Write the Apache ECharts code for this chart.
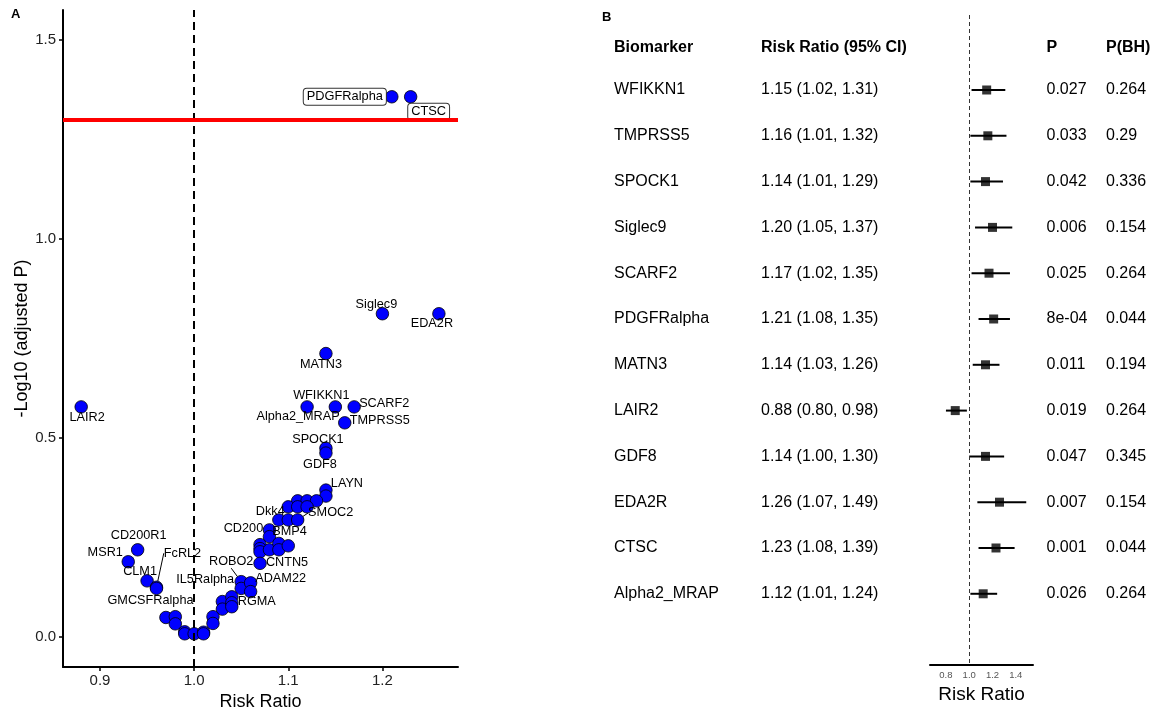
<!DOCTYPE html>
<html>
<head>
<meta charset="utf-8">
<script src="https://cdn.jsdelivr.net/npm/echarts@6/dist/echarts.min.js"></script>
<style>html,body{margin:0;padding:0;background:#fff}#c{width:1155px;height:708px}</style>
</head>
<body>
<div id="c"></div>
<script>
// ---------- Panel A data (volcano) ----------
const volcanoNames = ["PDGFRalpha","CTSC","Siglec9","EDA2R","MATN3","WFIKKN1","Alpha2_MRAP","SCARF2","LAIR2","TMPRSS5",
  "SPOCK1","GDF8","LAYN","","","","","Dkk4","","",
  "","","SMOC2","CD200","BMP4","","","","","",
  "","","CNTN5","ROBO2","IL5Ralpha","","ADAM22","","","",
  "RGMA","","","","CD200R1","MSR1","CLM1","FcRL2","GMCSFRalpha","",
  "","","","","","",""];
const volcanoRR = [1.21,1.23,1.20,1.26,1.14,1.15,1.12,1.17,0.88,1.16,
  1.14,1.14,1.14,1.14,1.11,1.12,1.13,1.10,1.11,1.12,
  1.09,1.10,1.11,1.08,1.08,1.07,1.07,1.07,1.08,1.09,
  1.09,1.10,1.07,1.05,1.05,1.06,1.06,1.03,1.03,1.04,
  1.04,1.04,1.02,1.02,0.94,0.93,0.95,0.96,0.96,0.97,
  0.98,0.98,0.99,0.99,1.00,1.01,1.01];
const volcanoLogP = [1.357,1.357,0.812,0.812,0.712,0.578,0.578,0.578,0.578,0.538,
  0.474,0.462,0.369,0.354,0.342,0.342,0.342,0.327,0.327,0.327,
  0.294,0.294,0.294,0.269,0.252,0.232,0.222,0.214,0.219,0.235,
  0.219,0.229,0.185,0.139,0.122,0.136,0.114,0.089,0.070,0.101,
  0.086,0.076,0.051,0.034,0.219,0.189,0.141,0.125,0.122,0.049,
  0.051,0.033,0.013,0.008,0.008,0.012,0.008];
const volcanoXTicks = [0.9, 1.0, 1.1, 1.2];
const volcanoYTicks = [0.0, 0.5, 1.0, 1.5];
const boxedLabels = ["PDGFRalpha","CTSC"];
const leaderLabels = ["FcRL2","ROBO2","SMOC2","ADAM22"];

// ---------- Panel B data (forest) ----------
const forestNames = ["WFIKKN1","TMPRSS5","SPOCK1","Siglec9","SCARF2","PDGFRalpha","MATN3","LAIR2","GDF8","EDA2R","CTSC","Alpha2_MRAP"];
const forestRR = [1.15,1.16,1.14,1.20,1.17,1.21,1.14,0.88,1.14,1.26,1.23,1.12];
const forestLo = [1.02,1.01,1.01,1.05,1.02,1.08,1.03,0.80,1.00,1.07,1.08,1.01];
const forestHi = [1.31,1.32,1.29,1.37,1.35,1.35,1.26,0.98,1.30,1.49,1.39,1.24];
const forestP = ["0.027","0.033","0.042","0.006","0.025","8e-04","0.011","0.019","0.047","0.007","0.001","0.026"];
const forestPBH = ["0.264","0.29","0.336","0.154","0.264","0.044","0.194","0.264","0.345","0.154","0.044","0.264"];
const forestXTicks = [0.8, 1.0, 1.2, 1.4];
const tableHeaders = ["Biomarker","Risk Ratio (95% CI)","P","P(BH)"];

// ---------- layout / style ----------
const FONT = "'Liberation Sans', Arial, Helvetica, sans-serif";
const labelOffsets = {
  LAIR2:[6,11], CD200R1:[1,-14], MSR1:[-23,-9], CLM1:[-7,-9], GMCSFRalpha:[-6,12], FcRL2:[26,-34],
  IL5Ralpha:[-36,-9], ROBO2:[-10,-20], ADAM22:[30,-13], RGMA:[25,-1], CNTN5:[27,-1], CD200:[-26,-1],
  BMP4:[20,-5], Dkk4:[-18,5], SMOC2:[33,-7], LAYN:[21,-7], SPOCK1:[-8,-9], GDF8:[-6,11],
  WFIKKN1:[-14,-11], Alpha2_MRAP:[-9,10], SCARF2:[30,-3], TMPRSS5:[35,-2], MATN3:[-5,11],
  Siglec9:[-6,-9], EDA2R:[-7,10], PDGFRalpha:[-47,0], CTSC:[18,15]
};
const colX = [614, 761, 1046.5, 1106];

const volcanoData = volcanoRR.map((x, i) => {
  const nm = volcanoNames[i];
  const item = { name: nm, value: [x, volcanoLogP[i]], label: { show: nm !== '' } };
  if (boxedLabels.includes(nm)) {
    Object.assign(item.label, { backgroundColor:'#fff', borderColor:'#333', borderWidth:1, borderRadius:3, padding:[2,3,1,3], fontSize:12.8 });
  }
  if (leaderLabels.includes(nm)) {
    item.labelLine = { show: true, lineStyle: { color:'#000', width:1 } };
  }
  return item;
});

const chart = echarts.init(document.getElementById('c'), null, { renderer: 'canvas' });
chart.setOption({
  animation: false,
  backgroundColor: '#fff',
  textStyle: { fontFamily: FONT },
  grid: [
    { left: 63, right: 697, top: 10, bottom: 41, containLabel: false, outerBoundsMode: 'none' },
    { left: 930, right: 122, top: 15, bottom: 43, containLabel: false, outerBoundsMode: 'none' }
  ],
  xAxis: [
    { gridIndex: 0, type: 'value', min: 0.8607, max: 1.2803,
      name: 'Risk Ratio', nameLocation: 'middle', nameGap: 22,
      nameTextStyle: { fontSize: 18, color: '#000', fontFamily: FONT },
      axisLine: { show: true, onZero: false, lineStyle: { color: '#000', width: 2 } },
      axisTick: { show: true, length: 4, customValues: volcanoXTicks, lineStyle: { color: '#000', width: 1.5 } },
      axisLabel: { customValues: volcanoXTicks, formatter: v => v.toFixed(1), fontSize: 15, color: '#222', margin: 6, fontFamily: FONT },
      splitLine: { show: false } },
    { gridIndex: 1, type: 'value', min: 0.663, max: 1.548,
      name: 'Risk Ratio', nameLocation: 'middle', nameGap: 16,
      nameTextStyle: { fontSize: 19, color: '#000', fontFamily: FONT },
      axisLine: { show: true, onZero: false, lineStyle: { color: '#000', width: 2 } },
      axisTick: { show: false, customValues: forestXTicks },
      axisLabel: { customValues: forestXTicks, formatter: v => v.toFixed(1), fontSize: 9.5, color: '#555', margin: 5, fontFamily: FONT },
      splitLine: { show: false } }
  ],
  yAxis: [
    { gridIndex: 0, type: 'value', min: -0.0754, max: 1.575,
      name: '-Log10 (adjusted P)', nameLocation: 'middle', nameGap: 32,
      nameTextStyle: { fontSize: 18, color: '#000', fontFamily: FONT },
      axisLine: { show: true, onZero: false, lineStyle: { color: '#000', width: 2 } },
      axisTick: { show: true, length: 4, customValues: volcanoYTicks, lineStyle: { color: '#000', width: 1.5 } },
      axisLabel: { customValues: volcanoYTicks, formatter: v => v.toFixed(1), fontSize: 15, color: '#222', margin: 7, fontFamily: FONT },
      splitLine: { show: false } },
    { gridIndex: 1, type: 'value', inverse: true, min: -1.6376, max: 12.555,
      show: false, splitLine: { show: false } }
  ],
  graphic: [
    { type: 'text', left: 11, top: 8, style: { text: 'A', fontSize: 13, fontWeight: 'bold', fill: '#000', fontFamily: FONT } },
    { type: 'text', left: 602, top: 11, style: { text: 'B', fontSize: 13, fontWeight: 'bold', fill: '#000', fontFamily: FONT } }
  ].concat(tableHeaders.map((h, k) => ({
    type: 'text', x: colX[k], y: 48, style: { text: h, fontSize: 16, fontWeight: 'bold', fill: '#000', fontFamily: FONT, verticalAlign: 'middle', align: 'left' }
  }))),
  series: [
    { type: 'scatter', xAxisIndex: 0, yAxisIndex: 0, symbol: 'circle', symbolSize: 12.5,
      itemStyle: { color: '#0000ff', borderColor: '#000', borderWidth: 0.8, opacity: 1 },
      label: { show: true, position: 'inside', formatter: '{b}', color: '#000', fontSize: 12.7, fontFamily: FONT },
      labelLine: { show: false },
      labelLayout: p => { const o = labelOffsets[volcanoNames[p.dataIndex]]; return o ? { dx: o[0], dy: o[1] } : {}; },
      emphasis: { disabled: true },
      data: volcanoData,
      markLine: { silent: true, symbol: 'none', label: { show: false },
        data: [
          { xAxis: 1.0, lineStyle: { color: '#000', width: 2, type: [8, 5] } },
          { yAxis: -Math.log10(0.05), lineStyle: { color: '#ff0000', width: 4, type: 'solid' } }
        ] },
      z: 3 },
    { type: 'custom', xAxisIndex: 1, yAxisIndex: 1, clip: false,
      data: forestNames.map((n, i) => [i, forestLo[i], forestHi[i]]),
      renderItem: (params, api) => {
        const i = api.value(0);
        const p1 = api.coord([api.value(1), i]);
        const p2 = api.coord([api.value(2), i]);
        const ty = p1[1];
        const texts = [
          forestNames[i],
          forestRR[i].toFixed(2) + ' (' + forestLo[i].toFixed(2) + ', ' + forestHi[i].toFixed(2) + ')',
          forestP[i],
          forestPBH[i]
        ];
        return { type: 'group', children: [
          { type: 'line', shape: { x1: p1[0], y1: p1[1], x2: p2[0], y2: p2[1] }, style: { stroke: '#000', lineWidth: 2 } }
        ].concat(texts.map((t, k) => ({
          type: 'text', style: { text: t, x: colX[k], y: ty, fontSize: 16, fill: '#000', fontFamily: FONT, verticalAlign: 'middle', align: 'left' }
        }))) };
      },
      markLine: { silent: true, symbol: 'none', label: { show: false },
        data: [ { xAxis: 1.0, lineStyle: { color: '#333', width: 1, type: [4, 3] } } ] },
      z: 2 },
    { type: 'scatter', xAxisIndex: 1, yAxisIndex: 1, symbol: 'rect', symbolSize: 9,
      itemStyle: { color: '#000' }, emphasis: { disabled: true },
      data: forestRR.map((v, i) => [v, i]), z: 4 }
  ]
});
</script>
</body>
</html>
